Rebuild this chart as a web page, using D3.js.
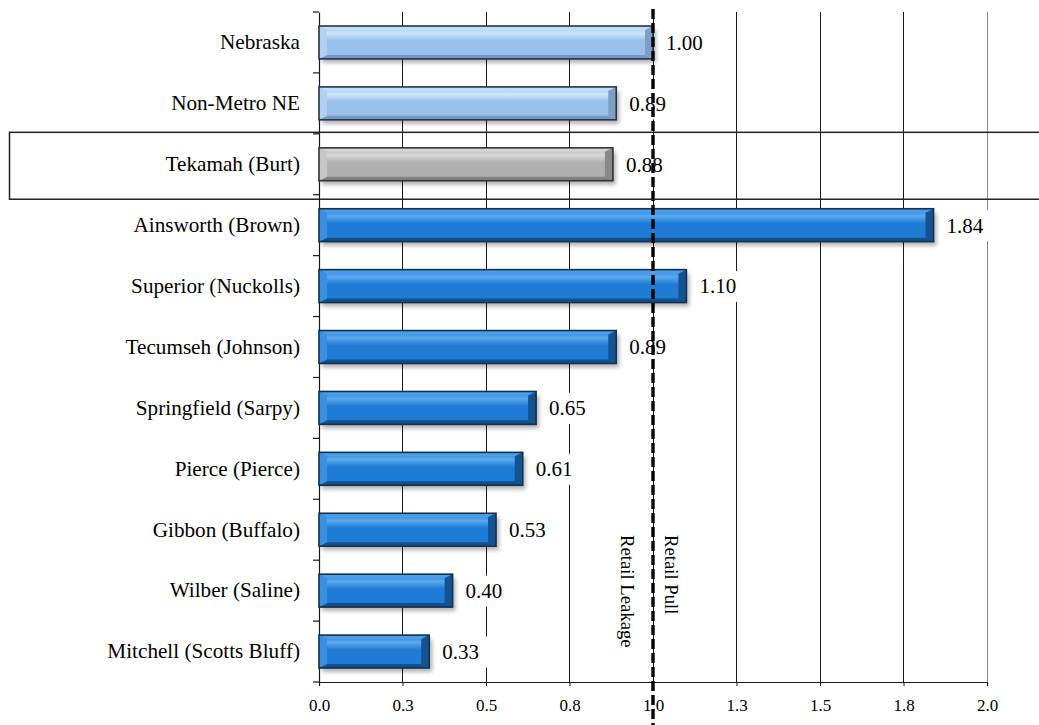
<!DOCTYPE html>
<html>
<head>
<meta charset="utf-8">
<script src="https://cdn.jsdelivr.net/npm/d3@7"></script>
<style>
html,body{margin:0;padding:0;background:#fff;}
svg{display:block;}
text{font-family:"Liberation Serif","Times New Roman",serif;fill:#000;}
</style>
</head>
<body>
<svg id="chart" width="1039" height="725"></svg>
<script>
// ---- data ----
const categories = ["Nebraska","Non-Metro NE","Tekamah (Burt)","Ainsworth (Brown)","Superior (Nuckolls)","Tecumseh (Johnson)","Springfield (Sarpy)","Pierce (Pierce)","Gibbon (Buffalo)","Wilber (Saline)","Mitchell (Scotts Bluff)"];
const values = [1.00,0.89,0.88,1.84,1.10,0.89,0.65,0.61,0.53,0.40,0.33];
const groups = ["state","state","focus","peer","peer","peer","peer","peer","peer","peer","peer"];
const tickValues = [0,0.25,0.5,0.75,1,1.25,1.5,1.75,2];
const tickLabels = ["0.0","0.3","0.5","0.8","1.0","1.3","1.5","1.8","2.0"];
const refValue = 1.0;
const refLabels = ["Retail Leakage","Retail Pull"];
const highlighted = "Tekamah (Burt)";

// ---- styles ----
const palette = {
  peer:  {face:"#1f7bd3", hi:"#5aaaf0", top:"#4b9ee8", bottom:"#124f8c", left:"#3b8fdf", right:"#145392", stroke:"#15304c"},
  state: {face:"#98c0ea", hi:"#cde6fd", top:"#c0dcf8", bottom:"#7399c3", left:"#b1d1f2", right:"#7c9fc6", stroke:"#2a3444"},
  focus: {face:"#b0b0b0", hi:"#d8d8d8", top:"#d3d3d3", bottom:"#828282", left:"#c6c6c6", right:"#888888", stroke:"#333333"}
};
const serif = '"Liberation Serif","Times New Roman",serif';

const svg = d3.select("#chart");
const x = d3.scaleLinear().domain([0,2]).range([319,987]);
const y = d3.scaleBand().domain(categories).range([12,682]).paddingInner(0.46).paddingOuter(0.23);
const step = y.step();

const defs = svg.append("defs");
Object.entries(palette).forEach(([k,p])=>{
  const g = defs.append("linearGradient").attr("id","g-"+k).attr("x1",0).attr("y1",0).attr("x2",0).attr("y2",1);
  g.append("stop").attr("offset","0%").attr("stop-color",p.face);
  g.append("stop").attr("offset","22%").attr("stop-color",p.hi);
  g.append("stop").attr("offset","45%").attr("stop-color",p.face);
  g.append("stop").attr("offset","100%").attr("stop-color",p.face);
});
const blur = defs.append("filter").attr("id","shadow").attr("x","-10%").attr("y","-30%").attr("width","130%").attr("height","180%");
blur.append("feGaussianBlur").attr("stdDeviation",2);

// ---- gridlines ----
svg.append("g").selectAll("line").data(tickValues.slice(1)).join("line")
  .attr("x1",d=>x(d)).attr("x2",d=>x(d)).attr("y1",12).attr("y2",682)
  .attr("stroke",d=>d===2?"#8a8a8a":"#1a1a1a").attr("stroke-width",1).attr("shape-rendering","crispEdges");

// ---- x axis ----
const xAxis = d3.axisBottom(x).tickValues(tickValues).tickFormat((d,i)=>tickLabels[i]).tickSize(4).tickPadding(13);
const gx = svg.append("g").attr("transform","translate(0,682)").call(xAxis).attr("font-family",serif);
gx.select(".domain").attr("stroke","#1a1a1a").attr("stroke-width",1.2);
gx.selectAll(".tick line").attr("stroke","#1a1a1a");
gx.selectAll("text").style("font-family",serif).style("font-size","17px").attr("fill","#000");

// ---- y axis ----
const yAxis = d3.axisLeft(y).tickSize(0).tickPadding(19);
const gy = svg.append("g").attr("transform","translate(319,0)").call(yAxis).attr("font-family",serif);
gy.select(".domain").attr("stroke","#1a1a1a").attr("stroke-width",1.2);
gy.selectAll("text").style("font-family",serif).style("font-size","21.2px").attr("fill","#000");
const bounds = categories.map(c=>y(c)-y.paddingOuter()*step).concat([y(categories[categories.length-1])+y.bandwidth()+y.paddingOuter()*step]);
gy.selectAll(".bound").data(bounds).join("line").attr("class","bound")
  .attr("x1",-6).attr("x2",0).attr("y1",d=>d).attr("y2",d=>d)
  .attr("stroke","#1a1a1a").attr("stroke-width",1.2);

// ---- bars ----
const rows = categories.map((c,i)=>({c, v:values[i], g:groups[i]}));
const bars = svg.append("g").selectAll("g").data(rows).join("g");
bars.append("rect")
  .attr("x",x(0)+3).attr("y",d=>y(d.c)+4).attr("width",d=>x(d.v)-x(0)).attr("height",y.bandwidth())
  .attr("fill","#000").attr("opacity",0.3).attr("filter","url(#shadow)");
bars.append("rect")
  .attr("x",x(0)).attr("y",d=>y(d.c)).attr("width",d=>x(d.v)-x(0)).attr("height",y.bandwidth())
  .attr("fill",d=>`url(#g-${d.g})`);
const bx = 8, by = 4;
function poly(d, side){
  const x0=x(0), x1=x(d.v), y0=y(d.c), y1=y0+y.bandwidth();
  if(side==="top") return [[x0,y0],[x1,y0],[x1-bx,y0+by],[x0+bx,y0+by]];
  if(side==="bottom") return [[x0,y1],[x1,y1],[x1-bx,y1-by],[x0+bx,y1-by]];
  if(side==="left") return [[x0,y0],[x0+bx,y0+by],[x0+bx,y1-by],[x0,y1]];
  return [[x1,y0],[x1-bx,y0+by],[x1-bx,y1-by],[x1,y1]];
}
["top","bottom","left","right"].forEach(s=>{
  bars.append("polygon").attr("points",d=>poly(d,s).map(p=>p.join(",")).join(" "))
    .attr("fill",d=>palette[d.g][s]);
});
bars.append("rect")
  .attr("x",x(0)).attr("y",d=>y(d.c)).attr("width",d=>x(d.v)-x(0)).attr("height",y.bandwidth())
  .attr("fill","none").attr("stroke",d=>palette[d.g].stroke).attr("stroke-width",1.6);

// ---- value labels ----
const labels = svg.append("g").selectAll("g").data(rows).join("g")
  .attr("transform",d=>`translate(${x(d.v)+13},${y(d.c)+y.bandwidth()/2})`);
labels.append("rect").attr("x",-5).attr("y",-15).attr("width",50).attr("height",31).attr("fill","#fff");
labels.append("text").attr("dy","0.35em").style("font-family",serif).style("font-size","21px").text(d=>d3.format(".2f")(d.v));

// ---- reference line ----
svg.append("line").attr("x1",x(refValue)).attr("x2",x(refValue)).attr("y1",9).attr("y2",725)
  .attr("stroke","#000").attr("stroke-width",3.4).attr("stroke-dasharray","10,4");
svg.append("text").attr("transform",`translate(${x(refValue)-32},535) rotate(90)`)
  .style("font-family",serif).style("font-size","18.7px").text(refLabels[0]);
svg.append("text").attr("transform",`translate(${x(refValue)+12},535) rotate(90)`)
  .style("font-family",serif).style("font-size","18.7px").text(refLabels[1]);

// ---- highlight box ----
const hy0 = y(highlighted)-y.paddingOuter()*step-1.5;
const hy1 = y(highlighted)+y.bandwidth()+y.paddingOuter()*step+4.5;
svg.append("rect").attr("x",9.5).attr("y",hy0).attr("width",1040).attr("height",hy1-hy0)
  .attr("fill","none").attr("stroke","#222").attr("stroke-width",1.5);
</script>
</body>
</html>
